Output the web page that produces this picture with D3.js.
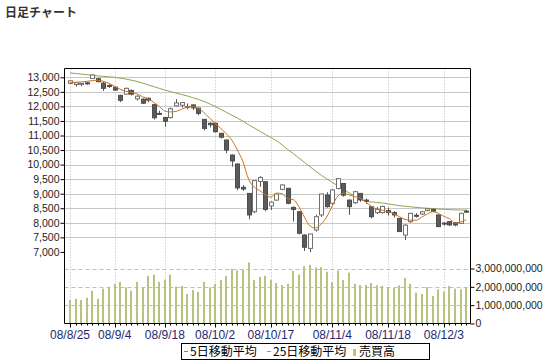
<!DOCTYPE html>
<html>
<head>
<meta charset="utf-8">
<script src="https://cdn.jsdelivr.net/npm/d3@7"></script>
<style>
  body { margin: 0; background: #fff; }
  svg text { font-family: Arial, "Liberation Sans", sans-serif; }
  .jp { font-family: "Noto Sans CJK JP", sans-serif; }
</style>
</head>
<body>
<svg id="chart" width="548" height="364"></svg>
<script>
// trading days, 2008-08-25 .. 2008-12-09
const dates = [
  "8/25","8/26","8/27","8/28","8/29","9/1","9/2","9/3","9/4","9/5",
  "9/8","9/9","9/10","9/11","9/12","9/16","9/17","9/18","9/19","9/22",
  "9/24","9/25","9/26","9/29","9/30","10/1","10/2","10/3","10/6","10/7",
  "10/8","10/9","10/10","10/14","10/15","10/16","10/17","10/20","10/21","10/22",
  "10/23","10/24","10/27","10/28","10/29","10/30","10/31","11/4","11/5","11/6",
  "11/7","11/10","11/11","11/12","11/13","11/14","11/17","11/18","11/19","11/20",
  "11/21","11/25","11/26","11/27","11/28","12/1","12/2","12/3","12/4","12/5",
  "12/8","12/9"
];

const open = [
  12790,12750,12760,12810,12960,12950,12800,12720,12660,12380,
  12420,12550,12260,12250,12280,12060,11760,11620,11620,12020,
  12040,11960,12050,11940,11555,11420,11420,11075,10845,10330,
  10020,9220,9010,8380,9420,9410,8580,8780,9150,9185,
  8530,8380,7580,7120,7750,8270,8955,8670,9180,9350,
  8780,8690,9010,8780,8550,8350,8350,8420,8350,8150,
  7580,8040,8260,8300,8420,8460,8270,7990,8040,8005,
  7980,8400
];
const high = [
  12900,12820,12800,12830,13100,12980,12850,12760,12680,12400,
  12650,12580,12380,12270,12300,12070,11850,11630,11960,12250,
  12150,12100,12080,11960,11560,11450,11440,11090,10860,10340,
  10040,9300,9020,9470,9600,9420,8730,9000,9320,9200,
  8560,8400,7600,7620,8280,9000,9050,9150,9540,9360,
  8800,9100,9020,8830,8560,8540,8590,8520,8400,8170,
  7950,8340,8330,8400,8500,8480,8280,8020,8050,8030,
  8340,8450
];
const low = [
  12770,12680,12700,12740,12940,12830,12530,12640,12540,12150,
  12400,12380,12200,12080,12140,11550,11700,11300,11580,12000,
  11960,11900,11880,11700,11170,11280,11100,10900,10390,9930,
  9120,9100,8120,8330,9240,8400,8440,8760,9120,8640,
  8040,7600,7030,6990,7700,8200,8520,8600,9150,8900,
  8270,8650,8720,8650,8150,8300,8320,8250,8180,7680,
  7410,8000,8180,8270,8400,8370,7850,7900,7900,7880,
  7970,8350
];
const close = [
  12880,12810,12790,12780,13080,12850,12620,12690,12560,12210,
  12620,12420,12350,12110,12215,11610,11750,11490,11920,12120,
  12130,12000,11950,11760,11245,11370,11130,10940,10500,10125,
  9200,9160,8270,9450,9560,8460,8710,8990,9300,8670,
  8460,7640,7160,7615,8210,8990,8555,9130,9520,8950,
  8555,9070,8785,8760,8210,8460,8560,8350,8270,7700,
  7920,8325,8240,8380,8480,8395,7870,7980,7925,7925,
  8325,8390
];

// moving averages
const ma5 = [
  12820,12830,12840,12860,12885,12900,12860,12790,12690,12590,
  12520,12480,12430,12330,12260,12140,12000,11840,11810,11830,
  11900,11970,11990,11930,11790,11600,11420,11250,11060,10840,
  10500,10100,9500,9230,9110,8970,8880,9020,9000,8830,
  8800,8560,8200,7890,7820,7950,8200,8580,8920,9020,
  8960,8900,8850,8720,8570,8470,8430,8380,8320,8210,
  8120,8090,8090,8190,8300,8380,8330,8220,8140,7990,
  8030,8110
];
const ma25 = [
  13150,13130,13110,13090,13070,13050,13030,13015,13000,12970,
  12940,12900,12860,12800,12740,12680,12620,12560,12510,12460,
  12410,12360,12300,12240,12170,12090,12000,11900,11800,11700,
  11600,11490,11370,11260,11150,11040,10930,10820,10680,10520,
  10380,10230,10080,9930,9780,9640,9510,9390,9270,9150,
  9030,8920,8820,8740,8720,8700,8680,8650,8620,8590,
  8570,8550,8530,8515,8500,8490,8475,8465,8455,8445,
  8440,8435
];

// volume (shares)
const volume = [
  1.28e9,1.35e9,1.28e9,1.41e9,1.79e9,1.35e9,1.90e9,1.97e9,2.16e9,2.27e9,
  1.97e9,1.79e9,2.27e9,1.97e9,2.60e9,2.67e9,2.27e9,2.39e9,2.67e9,2.01e9,
  2.05e9,1.61e9,1.83e9,1.72e9,2.27e9,1.97e9,2.16e9,2.38e9,2.60e9,2.98e9,
  2.89e9,2.93e9,3.33e9,2.38e9,2.54e9,2.60e9,2.38e9,2.21e9,2.10e9,2.16e9,
  2.87e9,2.67e9,3.13e9,3.20e9,3.05e9,3.07e9,2.82e9,2.25e9,2.89e9,2.38e9,
  2.78e9,2.16e9,2.10e9,2.10e9,2.21e9,2.08e9,2.05e9,1.94e9,1.94e9,2.08e9,
  2.49e9,2.16e9,1.68e9,1.61e9,1.99e9,1.50e9,1.86e9,1.74e9,2.05e9,1.90e9,
  1.86e9,1.99e9
];

const dateTicks = ["8/25","9/4","9/18","10/2","10/17","11/4","11/18","12/3"];
const dateTickLabels = ["08/8/25","08/9/4","08/9/18","08/10/2","08/10/17","08/11/4","08/11/18","08/12/3"];
const priceTicks = [13000,12500,12000,11500,11000,10500,10000,9500,9000,8500,8000,7500,7000];
const volumeTicks = [0, 1e9, 2e9, 3e9];

const svg = d3.select("#chart");
const L = 64.5, R = 470.5, T = 68.5, B = 323.5;

const x = d3.scalePoint().domain(dates).range([70, 466.2]);
const y = d3.scaleLinear().domain([7000, 13000]).range([251.9, 77.3]);
const v = d3.scaleLinear().domain([0, 3e9]).range([B, 268.5]);

svg.append("rect").attr("width", 548).attr("height", 364).attr("fill", "#fff");

svg.append("text").attr("class", "jp")
  .attr("x", 5).attr("y", 17)
  .attr("font-size", 12).attr("font-weight", "bold").attr("fill", "#333")
  .text("日足チャート");

// price grid
svg.append("g").selectAll("line")
  .data(priceTicks.filter(d => d > 7000))
  .join("line")
  .attr("x1", L).attr("x2", R)
  .attr("y1", d => Math.round(y(d)) + 0.5).attr("y2", d => Math.round(y(d)) + 0.5)
  .attr("stroke", "#c8c8c8");

// volume grid
svg.append("g").selectAll("line")
  .data(volumeTicks.slice(1))
  .join("line")
  .attr("x1", L).attr("x2", R)
  .attr("y1", d => Math.round(v(d)) + 0.5).attr("y2", d => Math.round(v(d)) + 0.5)
  .attr("stroke", "#bdbdbd").attr("stroke-dasharray", "4,3");

// date grid (dotted)
svg.append("g").selectAll("line")
  .data(dateTicks)
  .join("line")
  .attr("x1", d => Math.round(x(d)) + 0.5).attr("x2", d => Math.round(x(d)) + 0.5)
  .attr("y1", T).attr("y2", B)
  .attr("stroke", "#b8b8b8").attr("stroke-dasharray", "1,2");

// volume bars
svg.append("g").selectAll("rect")
  .data(volume)
  .join("rect")
  .attr("x", (d, i) => Math.round(x(dates[i])) - 1)
  .attr("width", 2)
  .attr("y", d => v(d))
  .attr("height", d => B - v(d))
  .attr("fill", "#b7c47f");

// moving averages
const line = d3.line().x((d, i) => x(dates[i])).y(d => y(d)).curve(d3.curveMonotoneX);
svg.append("path").datum(ma25).attr("d", line)
  .attr("fill", "none").attr("stroke", "#8fa451").attr("stroke-width", 1);

// candles
const candles = svg.append("g").selectAll("g")
  .data(dates.map((d, i) => ({d, o: open[i], h: high[i], l: low[i], c: close[i]})))
  .join("g");
candles.append("line")
  .attr("x1", d => Math.round(x(d.d)) + 0.5).attr("x2", d => Math.round(x(d.d)) + 0.5)
  .attr("y1", d => y(d.h)).attr("y2", d => y(d.l))
  .attr("stroke", "#555");
candles.append("rect")
  .attr("x", d => Math.round(x(d.d)) - 1.5)
  .attr("width", 4)
  .attr("y", d => y(Math.max(d.o, d.c)))
  .attr("height", d => Math.max(1, Math.abs(y(d.o) - y(d.c))))
  .attr("fill", d => d.c >= d.o ? "#fff" : "#5b5b5b")
  .attr("stroke", d => d.c >= d.o ? "#707070" : "#4d4d4d");

svg.append("path").datum(ma5).attr("d", line)
  .attr("fill", "none").attr("stroke", "#c9741f").attr("stroke-width", 1);

// frame
svg.append("line").attr("x1", L).attr("x2", R).attr("y1", T).attr("y2", T).attr("stroke", "#000");
svg.append("line").attr("x1", R).attr("x2", R).attr("y1", T).attr("y2", B).attr("stroke", "#000");

// left price axis
svg.append("g")
  .attr("transform", `translate(${L},0)`)
  .call(d3.axisLeft(y).tickValues(priceTicks).tickFormat(d3.format(",")).tickSize(4).tickPadding(1))
  .call(g => g.select(".domain").attr("d", `M0,${T}V${B}`).attr("stroke", "#000"))
  .call(g => g.selectAll("text").attr("font-size", 10.5).attr("fill", "#222").attr("font-family", "Arial"));

// right volume axis
svg.append("g")
  .attr("transform", `translate(${R},0)`)
  .call(d3.axisRight(v).tickValues(volumeTicks).tickFormat(d3.format(",")).tickSize(4).tickPadding(1))
  .call(g => g.select(".domain").remove())
  .call(g => g.selectAll("text").attr("font-size", 10.5).attr("fill", "#222").attr("font-family", "Arial"));

// bottom date axis
const xAxis = svg.append("g");
xAxis.append("line").attr("x1", L).attr("x2", R).attr("y1", B).attr("y2", B).attr("stroke", "#000");
xAxis.selectAll("line.minor")
  .data(dates)
  .join("line").attr("class", "minor")
  .attr("x1", d => Math.round(x(d)) + 0.5).attr("x2", d => Math.round(x(d)) + 0.5)
  .attr("y1", B).attr("y2", B + 2)
  .attr("stroke", "#000");
xAxis.selectAll("line.major")
  .data(dateTicks)
  .join("line").attr("class", "major")
  .attr("x1", d => Math.round(x(d)) + 0.5).attr("x2", d => Math.round(x(d)) + 0.5)
  .attr("y1", B).attr("y2", B + 4)
  .attr("stroke", "#000");
xAxis.selectAll("text")
  .data(dateTicks)
  .join("text")
  .attr("x", d => x(d)).attr("y", 339)
  .attr("text-anchor", "middle")
  .attr("font-size", 12).attr("fill", "#1f2a70")
  .text((d, i) => dateTickLabels[i]);

// legend
const lg = svg.append("g");
lg.append("rect").attr("x", 181.5).attr("y", 343.5).attr("width", 248).attr("height", 16)
  .attr("fill", "#fff").attr("stroke", "#000");
lg.append("line").attr("x1", 184).attr("x2", 188).attr("y1", 351.5).attr("y2", 351.5).attr("stroke", "#c9741f");
lg.append("text").attr("class", "jp").attr("x", 190).attr("y", 356).attr("font-size", 12).attr("fill", "#000").text("5日移動平均");
lg.append("line").attr("x1", 267).attr("x2", 271).attr("y1", 351.5).attr("y2", 351.5).attr("stroke", "#8fa451");
lg.append("text").attr("class", "jp").attr("x", 273).attr("y", 356).attr("font-size", 12).attr("fill", "#000").text("25日移動平均");
lg.append("rect").attr("x", 353).attr("y", 349).attr("width", 3).attr("height", 7).attr("fill", "#b7c47f");
lg.append("text").attr("class", "jp").attr("x", 359).attr("y", 356).attr("font-size", 12).attr("fill", "#000").text("売買高");
</script>
</body>
</html>
